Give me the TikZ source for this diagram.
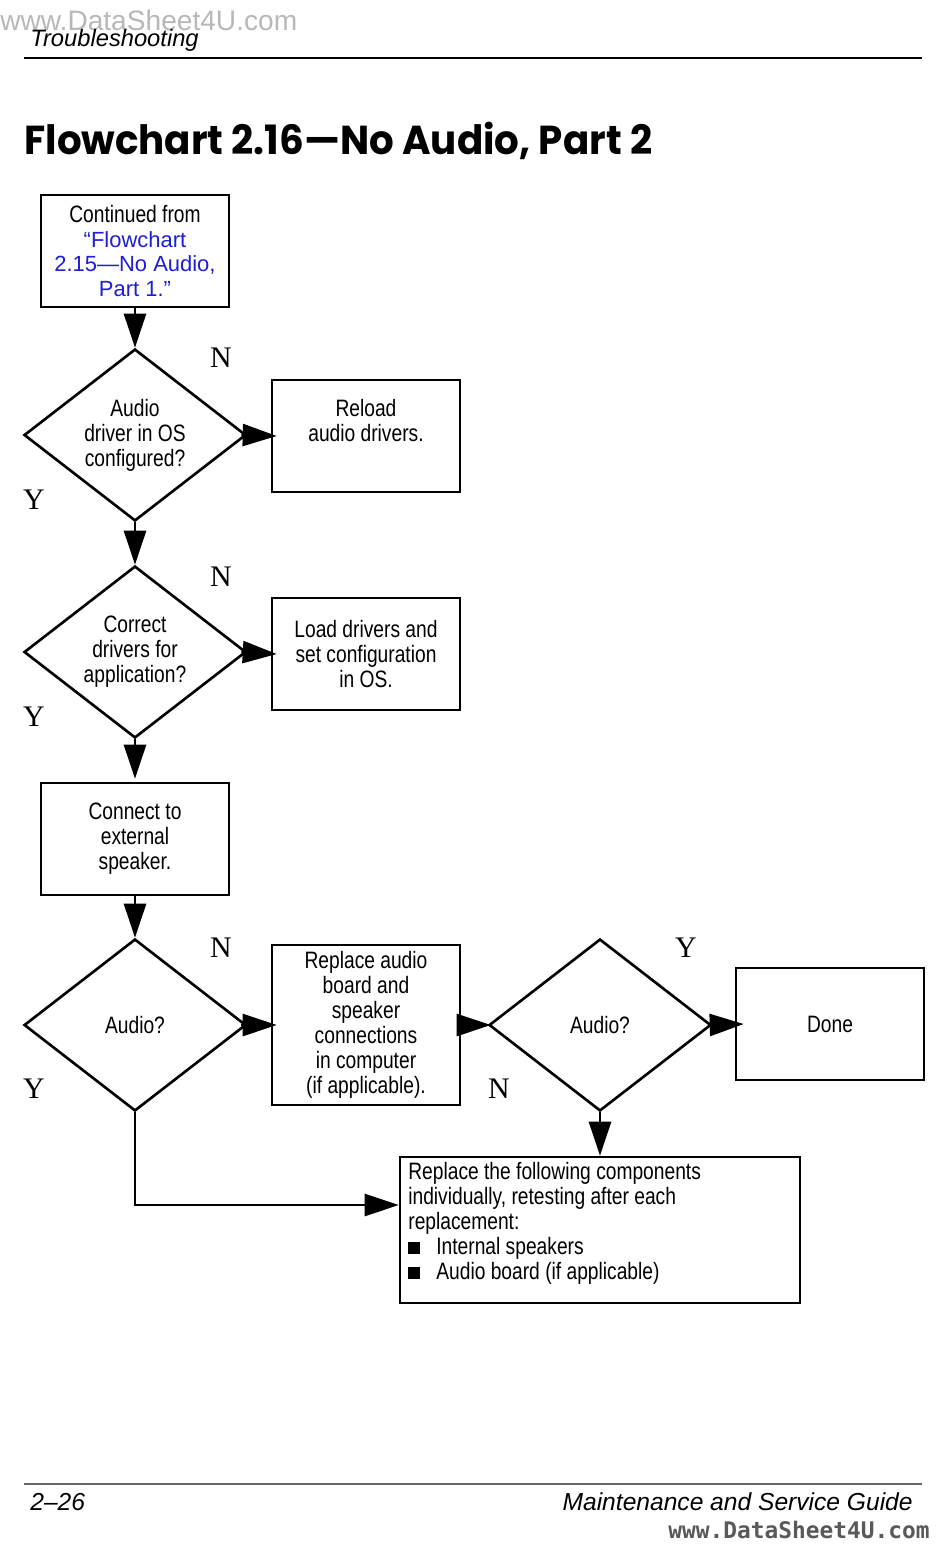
\documentclass[tikz,border=0pt]{standalone}
\usepackage{fontspec}
\setmainfont{Liberation Sans}
\newfontfamily\condfont[FakeStretch=0.81]{Liberation Sans}
\newfontfamily\ynfont{Liberation Serif}
\newfontfamily\titlefont[FakeStretch=0.96]{Poppins}
\newfontfamily\wmmono{DejaVu Sans Mono}
\usetikzlibrary{shapes.geometric,arrows.meta}
\definecolor{linkblue}{RGB}{30,30,215}
\newcommand{\bl}[1]{{\normalfont\fontsize{12.5}{14.2}\selectfont\color{linkblue}#1}}
\newcommand{\sqbullet}{\makebox[0.56cm][l]{\rule{0.24cm}{0.24cm}}}
\begin{document}
\begin{tikzpicture}[x=0.02cm,y=-0.02cm,
  box/.style={draw,line width=1.5pt,minimum width=3.76cm,minimum height=2.24cm,
    align=center,inner sep=0pt,font=\condfont\fontsize{13.5}{14.2}\selectfont},
  dec/.style={draw,diamond,line width=1.5pt,minimum width=4.44cm,minimum height=3.44cm,
    aspect=1.29,inner sep=0pt,align=center,font=\condfont\fontsize{13.5}{14.2}\selectfont},
  yn/.style={font=\ynfont\fontsize{17}{17}\selectfont,inner sep=0pt},
  arr/.style={line width=1.5pt,-{Triangle[length=0.68cm,width=0.44cm]}}]
\useasboundingbox (0,0) rectangle (950,1553);
\fill[white] (0,0) rectangle (950,1553);

% header / footer
\node[anchor=base west,text=black!28,font=\fontsize{16}{17}\selectfont,inner sep=0pt] (wm1) at (0,30) {www.DataSheet4U.com};
\node[anchor=base west,font=\itshape\fontsize{13.5}{16}\selectfont,inner sep=0pt] (hdr) at (30,46) {Troubleshooting};
\draw[line width=1.2pt] (24,58) -- (922,58);
\node[anchor=base west,font=\titlefont\bfseries\fontsize{23}{26}\selectfont,inner sep=0pt] (title) at (24,154) {Flowchart 2.16—No Audio, Part 2};
\draw[line width=1pt,black!60] (24,1484) -- (922,1484);
\node[anchor=base west,font=\itshape\fontsize{14}{16}\selectfont,inner sep=0pt] (pg) at (30,1510) {2–26};
\node[anchor=base east,font=\itshape\fontsize{14}{16}\selectfont,inner sep=0pt] (guide) at (913,1510) {Maintenance and Service Guide};
\node[anchor=base east,text=black!65,font=\wmmono\bfseries\fontsize{13}{14}\selectfont,inner sep=0pt] (wm2) at (930,1538) {www.DataSheet4U.com};

% flowchart nodes
\node[box] (start) at (135,251) {Continued from\\\bl{“Flowchart}\\\bl{2.15—No Audio,}\\\bl{Part 1.”}};
\node[dec] (d1) at (135,435) {Audio\\driver in OS\\configured?};
\node[box] (r1) at (366,436) {Reload\\audio drivers.\\[0.12cm]};
\node[dec] (d2) at (135,652) {Correct\\drivers for\\application?};
\node[box] (r2) at (366,654) {Load drivers and\\set configuration\\in OS.};
\node[box] (c1) at (135,839) {Connect to\\external\\speaker.};
\node[dec] (d3) at (135,1025) {Audio?};
\node[box,minimum height=3.2cm] (r3) at (366,1025) {Replace audio\\board and\\speaker\\connections\\in computer\\(if applicable).};
\node[dec] (d4) at (600,1025) {Audio?};
\node[box] (done) at (830,1024) {Done};
\node[box,minimum width=8cm,minimum height=2.92cm] (rep) at (600,1230) {};
\node[anchor=north west,align=left,inner sep=0pt,font=\condfont\fontsize{13.5}{14.2}\selectfont] (reptext) at (408,1162)
  {Replace the following components\\individually, retesting after each\\replacement:\\\sqbullet Internal speakers\\\sqbullet Audio board (if applicable)};

% labels
\node[yn] (n1) at (221,358) {N};
\node[yn] (y1) at (34,500) {Y};
\node[yn] (n2) at (221,577) {N};
\node[yn] (y2) at (34,717) {Y};
\node[yn] (n3) at (221,948) {N};
\node[yn] (y3) at (34,1089) {Y};
\node[yn] (y4) at (686,948) {Y};
\node[yn] (n4) at (499,1089) {N};

% connectors
\draw[arr] (start) -- (d1);
\draw[arr] ([xshift=-0.12cm]d1.east) -- ([xshift=0.12cm]r1.west);
\draw[arr] (d1) -- (d2);
\draw[arr] ([xshift=-0.12cm]d2.east) -- ([xshift=0.12cm]r2.west);
\draw[arr] (d2) -- ([yshift=0.06cm]c1.north);
\draw[arr] (c1) -- (d3);
\draw[arr] ([xshift=-0.12cm]d3.east) -- ([xshift=0.12cm]r3.west);
\draw[arr] (r3) -- ([xshift=0.06cm]d4.west);
\draw[arr] ([xshift=-0.06cm]d4.east) -- ([xshift=0.18cm]done.west);
\draw[arr] (d4) -- (rep);
\draw[arr] (d3.south) |- ([yshift=0.5cm]rep.west);
\end{tikzpicture}
\end{document}
